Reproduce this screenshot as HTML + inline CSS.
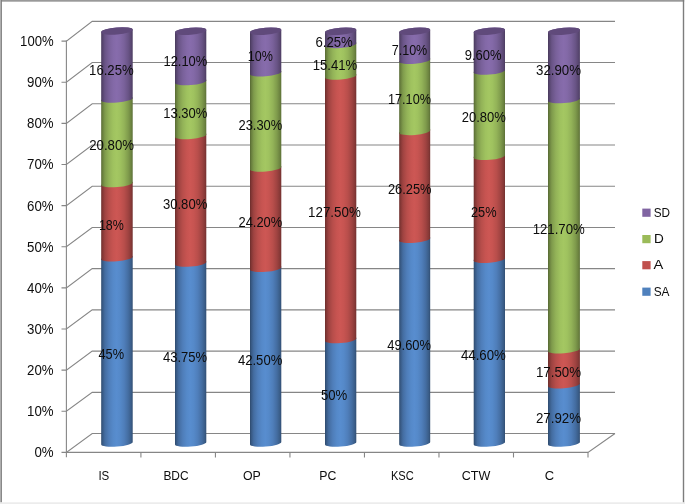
<!DOCTYPE html>
<html><head><meta charset="utf-8"><title>Chart</title>
<style>html,body{margin:0;padding:0;background:#fff}body{width:685px;height:504px;overflow:hidden}</style></head>
<body>
<svg width="685" height="504" viewBox="0 0 685 504" style="display:block">
<defs><linearGradient id="gP" x1="0" x2="1" y1="0" y2="0"><stop offset="0" stop-color="#463859"/><stop offset="0.04" stop-color="#55446c"/><stop offset="0.12" stop-color="#695486"/><stop offset="0.25" stop-color="#79619a"/><stop offset="0.38" stop-color="#8369a7"/><stop offset="0.49" stop-color="#876cac"/><stop offset="0.6" stop-color="#8369a7"/><stop offset="0.73" stop-color="#79619a"/><stop offset="0.86" stop-color="#695486"/><stop offset="0.95" stop-color="#594771"/><stop offset="1" stop-color="#4b3c60"/></linearGradient><linearGradient id="gG" x1="0" x2="1" y1="0" y2="0"><stop offset="0" stop-color="#556732"/><stop offset="0.04" stop-color="#677d3d"/><stop offset="0.12" stop-color="#7f9b4c"/><stop offset="0.25" stop-color="#93b358"/><stop offset="0.38" stop-color="#9fc25f"/><stop offset="0.49" stop-color="#a4c762"/><stop offset="0.6" stop-color="#9fc25f"/><stop offset="0.73" stop-color="#93b358"/><stop offset="0.86" stop-color="#7f9b4c"/><stop offset="0.95" stop-color="#6c8340"/><stop offset="1" stop-color="#5b6f36"/></linearGradient><linearGradient id="gR" x1="0" x2="1" y1="0" y2="0"><stop offset="0" stop-color="#6a2d2b"/><stop offset="0.04" stop-color="#813634"/><stop offset="0.12" stop-color="#9f4341"/><stop offset="0.25" stop-color="#b84e4b"/><stop offset="0.38" stop-color="#c75451"/><stop offset="0.49" stop-color="#cd5754"/><stop offset="0.6" stop-color="#c75451"/><stop offset="0.73" stop-color="#b84e4b"/><stop offset="0.86" stop-color="#9f4341"/><stop offset="0.95" stop-color="#873937"/><stop offset="1" stop-color="#72302f"/></linearGradient><linearGradient id="gB" x1="0" x2="1" y1="0" y2="0"><stop offset="0" stop-color="#2d496b"/><stop offset="0.04" stop-color="#375882"/><stop offset="0.12" stop-color="#446da1"/><stop offset="0.25" stop-color="#4f7eba"/><stop offset="0.38" stop-color="#5589c9"/><stop offset="0.49" stop-color="#588dcf"/><stop offset="0.6" stop-color="#5589c9"/><stop offset="0.73" stop-color="#4f7eba"/><stop offset="0.86" stop-color="#446da1"/><stop offset="0.95" stop-color="#3a5d88"/><stop offset="1" stop-color="#314e73"/></linearGradient></defs>
<rect x="0" y="0" width="685" height="504" fill="#fff"/>
<g stroke="#868686" stroke-width="1.1" fill="none" stroke-linecap="butt">
<path d="M61.5 452.40H66.4 L92.2 433.55H615.0"/>
<path d="M61.5 411.27H66.4 L92.2 392.33H615.0"/>
<path d="M61.5 370.14H66.4 L92.2 351.11H615.0"/>
<path d="M61.5 329.01H66.4 L92.2 309.89H615.0"/>
<path d="M61.5 287.88H66.4 L92.2 268.67H615.0"/>
<path d="M61.5 246.75H66.4 L92.2 227.45H615.0"/>
<path d="M61.5 205.62H66.4 L92.2 186.23H615.0"/>
<path d="M61.5 164.49H66.4 L92.2 145.01H615.0"/>
<path d="M61.5 123.36H66.4 L92.2 103.79H615.0"/>
<path d="M61.5 82.23H66.4 L92.2 62.57H615.0"/>
<path d="M61.5 41.10H66.4 L92.2 21.35H615.0"/>
<path d="M66.4 40.60V457.3"/>
<path d="M66.4 452.4H588.0L615.0 433.55"/>
<path d="M140.91 452.4V457.5"/>
<path d="M215.43 452.4V457.5"/>
<path d="M289.94 452.4V457.5"/>
<path d="M364.46 452.4V457.5"/>
<path d="M438.97 452.4V457.5"/>
<path d="M513.49 452.4V457.5"/>
<path d="M588.00 452.4V457.5"/>
</g>
<path d="M101.2 258.05V444.60A15.80 3.3 -4.73 0 0 132.7 442.00V255.45A15.80 3.3 -4.73 0 1 101.2 258.05Z" fill="url(#gB)"/>
<path d="M101.2 183.90V259.25A15.80 3.3 -4.73 0 0 132.7 256.65V181.30A15.80 3.3 -4.73 0 1 101.2 183.90Z" fill="url(#gR)"/>
<path d="M101.2 99.30V185.10A15.80 3.3 -4.73 0 0 132.7 182.50V96.70A15.80 3.3 -4.73 0 1 101.2 99.30Z" fill="url(#gG)"/>
<path d="M101.2 32.05V100.50A15.80 3.3 -4.73 0 0 132.7 97.90V29.45A15.80 3.3 -4.73 0 0 101.2 32.05Z" fill="url(#gP)"/>
<ellipse cx="116.95" cy="31.00" rx="15.80" ry="3.55" transform="rotate(-4.73 116.95 31.00)" fill="#604a7b"/>
<path d="M175.0 263.40V444.60A15.70 3.3 -4.73 0 0 206.3 442.00V260.80A15.70 3.3 -4.73 0 1 175.0 263.40Z" fill="url(#gB)"/>
<path d="M175.0 135.80V264.60A15.70 3.3 -4.73 0 0 206.3 262.00V133.20A15.70 3.3 -4.73 0 1 175.0 135.80Z" fill="url(#gR)"/>
<path d="M175.0 81.90V137.00A15.70 3.3 -4.73 0 0 206.3 134.40V79.30A15.70 3.3 -4.73 0 1 175.0 81.90Z" fill="url(#gG)"/>
<path d="M175.0 32.30V83.10A15.70 3.3 -4.73 0 0 206.3 80.50V29.70A15.70 3.3 -4.73 0 0 175.0 32.30Z" fill="url(#gP)"/>
<ellipse cx="190.65" cy="31.25" rx="15.70" ry="3.55" transform="rotate(-4.73 190.65 31.25)" fill="#604a7b"/>
<path d="M250.0 268.60V444.60A15.70 3.3 -4.73 0 0 281.3 442.00V266.00A15.70 3.3 -4.73 0 1 250.0 268.60Z" fill="url(#gB)"/>
<path d="M250.0 168.30V269.80A15.70 3.3 -4.73 0 0 281.3 267.20V165.70A15.70 3.3 -4.73 0 1 250.0 168.30Z" fill="url(#gR)"/>
<path d="M250.0 73.05V169.50A15.70 3.3 -4.73 0 0 281.3 166.90V70.45A15.70 3.3 -4.73 0 1 250.0 73.05Z" fill="url(#gG)"/>
<path d="M250.0 32.30V74.25A15.70 3.3 -4.73 0 0 281.3 71.65V29.70A15.70 3.3 -4.73 0 0 250.0 32.30Z" fill="url(#gP)"/>
<ellipse cx="265.65" cy="31.25" rx="15.70" ry="3.55" transform="rotate(-4.73 265.65 31.25)" fill="#604a7b"/>
<path d="M325.0 339.90V444.60A15.70 3.3 -4.73 0 0 356.3 442.00V337.30A15.70 3.3 -4.73 0 1 325.0 339.90Z" fill="url(#gB)"/>
<path d="M325.0 76.30V341.10A15.70 3.3 -4.73 0 0 356.3 338.50V73.70A15.70 3.3 -4.73 0 1 325.0 76.30Z" fill="url(#gR)"/>
<path d="M325.0 44.70V77.50A15.70 3.3 -4.73 0 0 356.3 74.90V42.10A15.70 3.3 -4.73 0 1 325.0 44.70Z" fill="url(#gG)"/>
<path d="M325.0 32.30V45.90A15.70 3.3 -4.73 0 0 356.3 43.30V29.70A15.70 3.3 -4.73 0 0 325.0 32.30Z" fill="url(#gP)"/>
<ellipse cx="340.65" cy="31.25" rx="15.70" ry="3.55" transform="rotate(-4.73 340.65 31.25)" fill="#604a7b"/>
<path d="M399.2 239.55V444.60A15.55 3.3 -4.73 0 0 430.2 442.00V236.95A15.55 3.3 -4.73 0 1 399.2 239.55Z" fill="url(#gB)"/>
<path d="M399.2 131.70V240.75A15.55 3.3 -4.73 0 0 430.2 238.15V129.10A15.55 3.3 -4.73 0 1 399.2 131.70Z" fill="url(#gR)"/>
<path d="M399.2 60.55V132.90A15.55 3.3 -4.73 0 0 430.2 130.30V57.95A15.55 3.3 -4.73 0 1 399.2 60.55Z" fill="url(#gG)"/>
<path d="M399.2 32.30V61.75A15.55 3.3 -4.73 0 0 430.2 59.15V29.70A15.55 3.3 -4.73 0 0 399.2 32.30Z" fill="url(#gP)"/>
<ellipse cx="414.70" cy="31.25" rx="15.55" ry="3.55" transform="rotate(-4.73 414.70 31.25)" fill="#604a7b"/>
<path d="M473.7 259.55V444.60A15.70 3.3 -4.73 0 0 505.0 442.00V256.95A15.70 3.3 -4.73 0 1 473.7 259.55Z" fill="url(#gB)"/>
<path d="M473.7 156.60V260.75A15.70 3.3 -4.73 0 0 505.0 258.15V154.00A15.70 3.3 -4.73 0 1 473.7 156.60Z" fill="url(#gR)"/>
<path d="M473.7 71.40V157.80A15.70 3.3 -4.73 0 0 505.0 155.20V68.80A15.70 3.3 -4.73 0 1 473.7 71.40Z" fill="url(#gG)"/>
<path d="M473.7 32.30V72.60A15.70 3.3 -4.73 0 0 505.0 70.00V29.70A15.70 3.3 -4.73 0 0 473.7 32.30Z" fill="url(#gP)"/>
<ellipse cx="489.35" cy="31.25" rx="15.70" ry="3.55" transform="rotate(-4.73 489.35 31.25)" fill="#604a7b"/>
<path d="M548.0 385.00V444.60A16.00 3.3 -4.73 0 0 579.9 442.00V382.40A16.00 3.3 -4.73 0 1 548.0 385.00Z" fill="url(#gB)"/>
<path d="M548.0 350.00V386.20A16.00 3.3 -4.73 0 0 579.9 383.60V347.40A16.00 3.3 -4.73 0 1 548.0 350.00Z" fill="url(#gR)"/>
<path d="M548.0 99.90V351.20A16.00 3.3 -4.73 0 0 579.9 348.60V97.30A16.00 3.3 -4.73 0 1 548.0 99.90Z" fill="url(#gG)"/>
<path d="M548.0 32.30V101.10A16.00 3.3 -4.73 0 0 579.9 98.50V29.70A16.00 3.3 -4.73 0 0 548.0 32.30Z" fill="url(#gP)"/>
<ellipse cx="563.95" cy="31.25" rx="16.00" ry="3.55" transform="rotate(-4.73 563.95 31.25)" fill="#604a7b"/>
<g font-family="'Liberation Sans', sans-serif" font-size="14.3px" fill="#0d0d0d">
<text x="89.10" y="74.60" textLength="44.60" lengthAdjust="spacingAndGlyphs">16.25%</text>
<text x="89.20" y="149.95" textLength="44.85" lengthAdjust="spacingAndGlyphs">20.80%</text>
<text x="98.90" y="230.20" textLength="24.90" lengthAdjust="spacingAndGlyphs">18%</text>
<text x="98.45" y="359.45" textLength="25.60" lengthAdjust="spacingAndGlyphs">45%</text>
<text x="163.45" y="65.70" textLength="43.85" lengthAdjust="spacingAndGlyphs">12.10%</text>
<text x="163.20" y="117.70" textLength="44.10" lengthAdjust="spacingAndGlyphs">13.30%</text>
<text x="162.95" y="209.45" textLength="44.35" lengthAdjust="spacingAndGlyphs">30.80%</text>
<text x="162.95" y="361.95" textLength="44.10" lengthAdjust="spacingAndGlyphs">43.75%</text>
<text x="247.70" y="61.45" textLength="25.10" lengthAdjust="spacingAndGlyphs">10%</text>
<text x="238.45" y="129.70" textLength="43.85" lengthAdjust="spacingAndGlyphs">23.30%</text>
<text x="238.45" y="227.45" textLength="43.85" lengthAdjust="spacingAndGlyphs">24.20%</text>
<text x="237.95" y="365.45" textLength="44.35" lengthAdjust="spacingAndGlyphs">42.50%</text>
<text x="315.45" y="47.20" textLength="37.35" lengthAdjust="spacingAndGlyphs">6.25%</text>
<text x="312.70" y="69.95" textLength="44.60" lengthAdjust="spacingAndGlyphs">15.41%</text>
<text x="308.10" y="216.95" textLength="52.70" lengthAdjust="spacingAndGlyphs">127.50%</text>
<text x="320.95" y="399.70" textLength="26.35" lengthAdjust="spacingAndGlyphs">50%</text>
<text x="391.70" y="55.20" textLength="35.60" lengthAdjust="spacingAndGlyphs">7.10%</text>
<text x="387.95" y="104.45" textLength="43.10" lengthAdjust="spacingAndGlyphs">17.10%</text>
<text x="387.95" y="193.95" textLength="43.60" lengthAdjust="spacingAndGlyphs">26.25%</text>
<text x="387.20" y="350.00" textLength="43.85" lengthAdjust="spacingAndGlyphs">49.60%</text>
<text x="464.70" y="59.95" textLength="36.85" lengthAdjust="spacingAndGlyphs">9.60%</text>
<text x="461.70" y="122.45" textLength="44.10" lengthAdjust="spacingAndGlyphs">20.80%</text>
<text x="470.95" y="216.95" textLength="25.60" lengthAdjust="spacingAndGlyphs">25%</text>
<text x="460.95" y="360.20" textLength="44.85" lengthAdjust="spacingAndGlyphs">44.60%</text>
<text x="536.00" y="75.20" textLength="45.05" lengthAdjust="spacingAndGlyphs">32.90%</text>
<text x="532.70" y="233.95" textLength="52.10" lengthAdjust="spacingAndGlyphs">121.70%</text>
<text x="535.90" y="376.95" textLength="45.15" lengthAdjust="spacingAndGlyphs">17.50%</text>
<text x="535.90" y="423.45" textLength="45.15" lengthAdjust="spacingAndGlyphs">27.92%</text>
<text x="98.40" y="479.80" textLength="10.90" lengthAdjust="spacingAndGlyphs" font-size="13px">IS</text>
<text x="163.40" y="479.80" textLength="25.20" lengthAdjust="spacingAndGlyphs" font-size="13px">BDC</text>
<text x="242.95" y="479.80" textLength="17.85" lengthAdjust="spacingAndGlyphs" font-size="13px">OP</text>
<text x="319.20" y="479.80" textLength="17.10" lengthAdjust="spacingAndGlyphs" font-size="13px">PC</text>
<text x="390.95" y="479.80" textLength="22.85" lengthAdjust="spacingAndGlyphs" font-size="13px">KSC</text>
<text x="461.70" y="479.80" textLength="28.60" lengthAdjust="spacingAndGlyphs" font-size="13px">CTW</text>
<text x="544.70" y="479.80" textLength="9.35" lengthAdjust="spacingAndGlyphs" font-size="13px">C</text>
<text x="653.70" y="216.75" textLength="16.35" lengthAdjust="spacingAndGlyphs" font-size="13px">SD</text>
<text x="654.00" y="243.25" textLength="9.80" lengthAdjust="spacingAndGlyphs" font-size="13px">D</text>
<text x="653.50" y="269.25" textLength="9.80" lengthAdjust="spacingAndGlyphs" font-size="13px">A</text>
<text x="653.70" y="296.25" textLength="15.85" lengthAdjust="spacingAndGlyphs" font-size="13px">SA</text>
<text x="34.40" y="457.30" textLength="19.20" lengthAdjust="spacingAndGlyphs">0%</text>
<text x="27.10" y="416.17" textLength="26.50" lengthAdjust="spacingAndGlyphs">10%</text>
<text x="27.10" y="375.04" textLength="26.50" lengthAdjust="spacingAndGlyphs">20%</text>
<text x="27.10" y="333.91" textLength="26.50" lengthAdjust="spacingAndGlyphs">30%</text>
<text x="27.10" y="292.78" textLength="26.50" lengthAdjust="spacingAndGlyphs">40%</text>
<text x="27.10" y="251.65" textLength="26.50" lengthAdjust="spacingAndGlyphs">50%</text>
<text x="27.10" y="210.52" textLength="26.50" lengthAdjust="spacingAndGlyphs">60%</text>
<text x="27.10" y="169.39" textLength="26.50" lengthAdjust="spacingAndGlyphs">70%</text>
<text x="27.10" y="128.26" textLength="26.50" lengthAdjust="spacingAndGlyphs">80%</text>
<text x="27.10" y="87.13" textLength="26.50" lengthAdjust="spacingAndGlyphs">90%</text>
<text x="20.10" y="46.00" textLength="33.50" lengthAdjust="spacingAndGlyphs">100%</text>
</g>
<rect x="642.3" y="208.6" width="8.3" height="8.2" fill="#8064a2"/>
<rect x="642.3" y="235.0" width="8.3" height="8.2" fill="#9bbb59"/>
<rect x="642.3" y="261.1" width="8.3" height="8.2" fill="#c0504d"/>
<rect x="642.3" y="287.6" width="8.3" height="8.2" fill="#4f81bd"/>
<rect x="0" y="0" width="684.2" height="1.7" fill="#999"/>
<rect x="0" y="0" width="1" height="502.6" fill="#bbb"/><rect x="0.8" y="0" width="1.1" height="502.6" fill="#7d7d7d"/>
<rect x="682.8" y="0" width="1.4" height="502.6" fill="#7d7d7d"/>
<rect x="0" y="502.3" width="685" height="1.7" fill="#ececec"/>
</svg>
</body></html>
